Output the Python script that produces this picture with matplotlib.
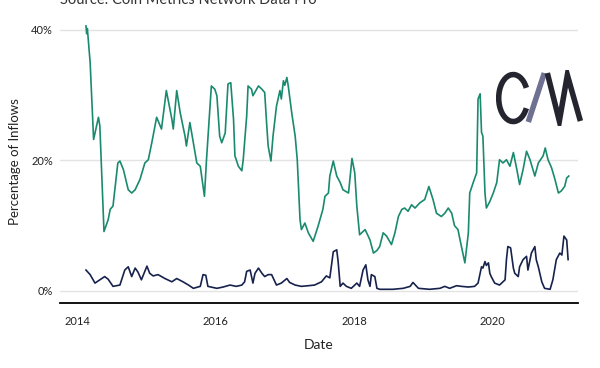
import matplotlib.pyplot as plt
from matplotlib.patches import Arc

# share of inflows (decimal year, percent)
green_year = [2014.13, 2014.14, 2014.15, 2014.19, 2014.24, 2014.31, 2014.33, 2014.39, 2014.45, 2014.48,
              2014.52, 2014.59, 2014.62, 2014.67, 2014.74, 2014.79, 2014.84, 2014.91, 2014.98, 2015.03,
              2015.08, 2015.15, 2015.22, 2015.29, 2015.37, 2015.39, 2015.44, 2015.49, 2015.56, 2015.58,
              2015.63, 2015.68, 2015.73, 2015.78, 2015.84, 2015.87, 2015.92, 2015.94, 2015.99, 2016.02,
              2016.06, 2016.09, 2016.14, 2016.18, 2016.22, 2016.26, 2016.28, 2016.33, 2016.38, 2016.40,
              2016.45, 2016.47, 2016.52, 2016.54, 2016.62, 2016.67, 2016.71, 2016.74, 2016.76, 2016.80,
              2016.83, 2016.88, 2016.93, 2016.95, 2016.98, 2017.00, 2017.03, 2017.05, 2017.10, 2017.15,
              2017.18, 2017.22, 2017.24, 2017.29, 2017.34, 2017.41, 2017.48, 2017.55, 2017.58, 2017.63,
              2017.65, 2017.70, 2017.75, 2017.80, 2017.84, 2017.92, 2017.97, 2018.01, 2018.04, 2018.08,
              2018.16, 2018.23, 2018.28, 2018.33, 2018.37, 2018.42, 2018.47, 2018.54, 2018.59, 2018.64,
              2018.69, 2018.73, 2018.78, 2018.83, 2018.88, 2018.95, 2019.02, 2019.08, 2019.14, 2019.19,
              2019.26, 2019.31, 2019.36, 2019.41, 2019.45, 2019.50, 2019.55, 2019.60, 2019.65, 2019.67,
              2019.72, 2019.77, 2019.79, 2019.82, 2019.84, 2019.86, 2019.89, 2019.91, 2019.96, 2020.01,
              2020.06, 2020.10, 2020.15, 2020.20, 2020.25, 2020.30, 2020.35, 2020.39, 2020.44, 2020.49,
              2020.54, 2020.61, 2020.66, 2020.73, 2020.76, 2020.80, 2020.85, 2020.90, 2020.95, 2020.99,
              2021.04, 2021.07, 2021.10]
green_pct = [40.6, 39.4, 40.2, 35.0, 23.2, 26.6, 25.3, 9.1, 10.9, 12.5,
             13.0, 19.6, 19.9, 18.6, 15.5, 15.0, 15.5, 17.1, 19.6, 20.1,
             22.7, 26.6, 24.8, 30.7, 26.3, 24.8, 30.7, 27.3, 23.7, 22.2,
             25.8, 22.7, 19.6, 19.1, 14.5, 20.1, 28.3, 31.4, 30.9, 29.9,
             23.7, 22.7, 24.2, 31.7, 31.9, 26.3, 20.7, 19.1, 18.4, 20.1,
             26.8, 31.4, 30.9, 29.9, 31.4, 30.9, 30.4, 25.3, 22.2, 19.9,
             23.7, 28.3, 30.7, 29.4, 32.2, 31.5, 32.7, 31.4, 27.3, 23.7,
             20.1, 10.9, 9.4, 10.4, 8.9, 7.6, 9.9, 12.5, 14.5, 15.0,
             17.6, 19.9, 17.6, 16.6, 15.5, 15.0, 20.3, 18.1, 13.0, 8.6,
             9.4, 7.8, 5.8, 6.2, 6.8, 8.9, 8.4, 7.1, 8.9, 11.4,
             12.5, 12.7, 12.2, 13.2, 12.7, 13.5, 14.0, 16.0, 14.0, 11.9,
             11.4, 11.9, 12.7, 11.9, 10.0, 9.4, 6.8, 4.3, 8.9, 15.0,
             16.6, 18.1, 29.4, 30.2, 24.3, 23.7, 15.0, 12.7, 13.7, 15.0,
             16.6, 20.1, 19.6, 20.1, 19.1, 21.2, 18.6, 16.3, 18.6, 21.4,
             20.1, 17.6, 19.6, 20.7, 21.9, 20.1, 18.9, 17.1, 15.0, 15.3,
             16.0, 17.3, 17.6]

navy_year = [2014.13, 2014.19, 2014.26, 2014.33, 2014.40, 2014.45, 2014.52, 2014.62, 2014.69, 2014.74,
             2014.79, 2014.84, 2014.88, 2014.93, 2015.01, 2015.05, 2015.10, 2015.17, 2015.27, 2015.37,
             2015.44, 2015.53, 2015.61, 2015.68, 2015.78, 2015.82, 2015.86, 2015.89, 2016.02, 2016.11,
             2016.21, 2016.30, 2016.38, 2016.42, 2016.45, 2016.50, 2016.54, 2016.57, 2016.62, 2016.67,
             2016.71, 2016.76, 2016.81, 2016.88, 2016.95, 2017.03, 2017.07, 2017.15, 2017.24, 2017.34,
             2017.43, 2017.53, 2017.60, 2017.65, 2017.70, 2017.75, 2017.77, 2017.80, 2017.84, 2017.89,
             2017.96, 2018.04, 2018.08, 2018.13, 2018.17, 2018.20, 2018.23, 2018.25, 2018.30, 2018.33,
             2018.37, 2018.56, 2018.71, 2018.81, 2018.85, 2018.93, 2019.09, 2019.24, 2019.31, 2019.38,
             2019.48, 2019.55, 2019.65, 2019.74, 2019.79, 2019.84, 2019.86, 2019.89, 2019.91, 2019.94,
             2019.96, 2019.98, 2020.03, 2020.10, 2020.18, 2020.20, 2020.22, 2020.26, 2020.30, 2020.32,
             2020.37, 2020.39, 2020.44, 2020.49, 2020.51, 2020.56, 2020.61, 2020.63, 2020.66, 2020.71,
             2020.75, 2020.83, 2020.87, 2020.92, 2020.97, 2021.00, 2021.03, 2021.07, 2021.09]
navy_pct = [3.2, 2.5, 1.2, 1.7, 2.2, 1.8, 0.7, 0.9, 3.2, 3.7,
            2.2, 3.5, 2.9, 1.7, 3.8, 2.7, 2.3, 2.5, 1.9, 1.4,
            1.9, 1.4, 0.9, 0.4, 0.7, 2.5, 2.4, 0.7, 0.4, 0.6,
            0.9, 0.7, 0.9, 1.4, 3.0, 3.2, 1.2, 2.7, 3.5, 2.7,
            2.2, 2.5, 2.5, 0.9, 1.2, 1.9, 1.3, 0.9, 0.7, 0.8,
            0.9, 1.4, 2.3, 2.0, 6.0, 6.3, 4.5, 0.7, 1.2, 0.7,
            0.4, 1.2, 0.7, 3.2, 4.0, 1.7, 0.7, 2.5, 2.2, 0.4,
            0.25, 0.25, 0.4, 0.7, 1.3, 0.4, 0.25, 0.4, 0.7, 0.4,
            0.8, 0.7, 0.6, 0.7, 1.2, 3.7, 3.5, 4.5, 3.9, 4.3,
            2.7, 2.2, 1.2, 0.9, 1.7, 4.8, 6.8, 6.6, 3.5, 2.7,
            2.2, 3.7, 4.8, 5.3, 3.2, 5.8, 6.8, 4.8, 3.7, 1.4,
            0.4, 0.25, 1.7, 4.8, 5.8, 5.5, 8.4, 7.8, 4.8]

year_ticks = [2014, 2016, 2018, 2020]
pct_ticks = [0, 20, 40]

plt.rcParams['font.family'] = ['Lato', 'DejaVu Sans']

fig = plt.figure(figsize=(6, 3.68), dpi=100)
ax = fig.add_axes([0.1, 0.1766, 0.863, 0.769])

ax.plot(green_year, green_pct, color='#1a8a6e', lw=1.2)
ax.plot(navy_year, navy_pct, color='#17224d', lw=1.2)

ax.set_xlim(2013.755, 2021.23)
ax.set_ylim(-1.85, 41.5)
ax.set_xticks(year_ticks)
ax.set_xticklabels([str(y) for y in year_ticks])
ax.set_yticks(pct_ticks)
ax.set_yticklabels([f'{p}%' for p in pct_ticks])
ax.tick_params(length=0, labelsize=8, colors='#222222')
ax.tick_params(axis='y', pad=5)
ax.tick_params(axis='x', pad=9)
ax.grid(axis='y', color='#e3e3e3', lw=1)
ax.set_axisbelow(True)
for s in ['top', 'right', 'left']:
    ax.spines[s].set_visible(False)
ax.spines['bottom'].set_color('black')
ax.spines['bottom'].set_linewidth(1.3)

ax.set_xlabel('Date', fontsize=10, color='#222222', labelpad=9)
ax.set_ylabel('Percentage of Inflows', fontsize=9.5, color='#222222', labelpad=7)

# source line, cut off at the top edge as in the original
fig.text(0.1, 1.0, 'Source: Coin Metrics Network Data Pro', fontsize=10.5,
         color='#333333', va='center', ha='left')

# CM logo
logo = fig.add_axes([0.827, 0.6576, 0.147, 0.152])
logo.set_xlim(0, 88)
logo.set_ylim(0, 56)
logo.axis('off')
logo.add_patch(Arc((17, 28), 29, 47, theta1=38, theta2=322, color='#25252f', lw=4.0))
logo.plot([32, 48], [4, 53], color='#6e7192', lw=4.0, solid_capstyle='butt')
logo.plot([51, 63, 71, 84], [53, 5, 51, 5], color='#25252f', lw=4.0,
          solid_capstyle='butt', solid_joinstyle='miter')

fig.savefig('out.png', dpi=100, facecolor='white')
